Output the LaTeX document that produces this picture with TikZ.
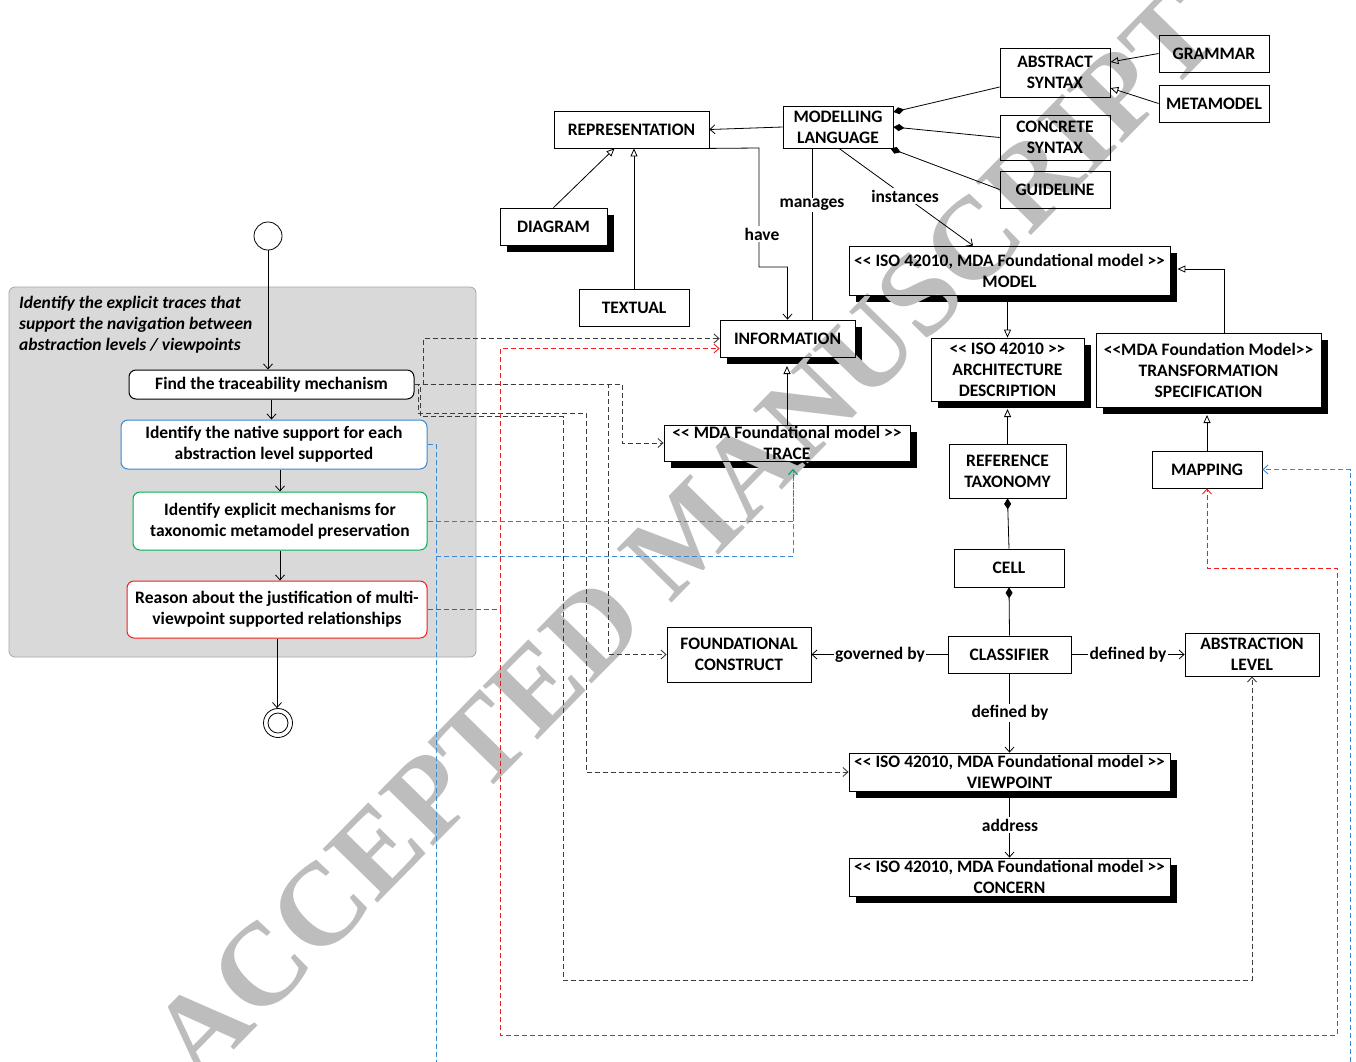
\documentclass[tikz,border=0pt]{standalone}
\usepackage{fontspec}
\setmainfont{Carlito}[Ligatures=TeXOff]
\newfontfamily\wmfont{Liberation Serif}[Ligatures=TeXOff]
\usetikzlibrary{arrows.meta}
\pgfdeclarelayer{bg}
\pgfsetlayers{bg,main}
\definecolor{panelc}{HTML}{D9D9D9}
\definecolor{panelb}{HTML}{A6A6A6}
\definecolor{bluec}{HTML}{3A87D2}
\definecolor{greenc}{HTML}{00B050}
\definecolor{redc}{HTML}{F01E1E}
\definecolor{darkc}{HTML}{3C3C3C}
\definecolor{wmc}{HTML}{BDBDBD}
\newcommand\lbl{\fontsize{17.5}{21}\selectfont\bfseries}
\newcommand\opn{<\kern0pt<}
\newcommand\cls{>\kern0pt>}
\newcommand\mkshadow[1]{\begin{pgfonlayer}{bg}\fill[black] ([shift={(7,7)}]#1.north west) rectangle ([shift={(7,7)}]#1.south east);\fill[white] (#1.north west) rectangle (#1.south east);\end{pgfonlayer}}
\tikzset{
  clsbox/.style={draw, line width=0.8pt, align=center, inner sep=0pt, font=\lbl},
  lab/.style={fill=white, inner sep=1.5pt, font=\lbl},
  act/.style={draw, rounded corners=7pt, fill=white, align=center, inner sep=0pt, line width=1pt, font=\lbl},
  conn/.style={line width=0.8pt, draw=black},
  openarr/.style={-{Straight Barb[length=5pt,width=9pt]}},
  gen/.style={-{Triangle[open,length=8pt,width=7pt]}},
  comp/.style={{Diamond[length=11pt,width=7pt]}-},
  dsh/.style={dash pattern=on 5pt off 3pt, line width=0.9pt},
}
\begin{document}
\begin{tikzpicture}[x=1pt,y=-1pt]
\useasboundingbox (0,0) rectangle (1356,1061);
\begin{pgfonlayer}{bg}
\fill[white] (0,0) rectangle (1356,1061);
\end{pgfonlayer}
% activity panel
\draw[fill=panelc, draw=panelb, rounded corners=6pt, line width=0.8pt] (9,287) rectangle (476,657);
% watermark
\node[rotate=45.6, text=wmc, font=\wmfont\bfseries\fontsize{117}{117}\selectfont] (wm) at (685,535) {ACCEPTED MANUSCRIPT};
% activity nodes
\node[font=\lbl\itshape, align=left, anchor=north west, inner sep=0pt] (title) at (19,296) {Identify the explicit traces that\\support the navigation between\\abstraction levels / viewpoints};
\node[circle, draw, fill=white, minimum size=28pt, inner sep=0pt, line width=0.8pt] (start) at (268,236) {};
\node[act, minimum width=285, minimum height=29] (find) at (271.5,384.5) {Find the traceability mechanism};
\node[act, draw=bluec, minimum width=306, minimum height=49] (native) at (274,444.5) {Identify the native support for each\\abstraction level supported};
\node[act, draw=greenc, minimum width=294, minimum height=58] (explicit) at (280,521) {Identify explicit mechanisms for\\taxonomic metamodel preservation};
\node[act, draw=redc, minimum width=300, minimum height=57] (reason) at (277,609.5) {Reason about the justification of multi-\\viewpoint supported relationships};
\node[circle, draw, fill=white, minimum size=29pt, inner sep=0pt, line width=0.8pt] (end) at (278,723) {};
\node[circle, draw, minimum size=20pt, inner sep=0pt, line width=0.8pt] (endin) at (278,723) {};
\draw[conn,openarr] (start.south) -- (start.south |- find.north);
\draw[conn,openarr] (find.south) -- (find.south |- native.north);
\draw[conn,openarr] (explicit.north |- native.south) -- (explicit.north);
\draw[conn,openarr] (explicit.south) -- (explicit.south |- reason.north);
\draw[conn,openarr] (reason.south) -- (reason.south |- end.north);
% class nodes
\node[clsbox, minimum width=155, minimum height=37] (rep) at (631.5,129.5) {REPRESENTATION};
\node[clsbox, minimum width=110, minimum height=42] (ml) at (838,127) {MODELLING\\LANGUAGE};
\node[clsbox, minimum width=110, minimum height=49] (abs) at (1055,72.5) {ABSTRACT\\SYNTAX};
\node[clsbox, minimum width=110, minimum height=45] (conc) at (1055,137.5) {CONCRETE\\SYNTAX};
\node[clsbox, minimum width=110, minimum height=37] (guide) at (1055,189.5) {GUIDELINE};
\node[clsbox, minimum width=110, minimum height=37] (gram) at (1214,53.5) {GRAMMAR};
\node[clsbox, minimum width=110, minimum height=37] (meta) at (1214,103.5) {METAMODEL};
\node[clsbox, minimum width=107, minimum height=37] (diag) at (553.5,226.5) {DIAGRAM};
\mkshadow{diag}
\node[clsbox, minimum width=110, minimum height=37] (textual) at (634,307.5) {TEXTUAL};
\node[clsbox, minimum width=135, minimum height=37] (info) at (787.5,338.5) {INFORMATION};
\mkshadow{info}
\node[clsbox, minimum width=321, minimum height=49] (model) at (1009.5,270.5) {\opn{} ISO 42010, MDA Foundational model \cls\\MODEL};
\mkshadow{model}
\node[clsbox, minimum width=153, minimum height=63] (arch) at (1007.5,369.5) {\opn{} ISO 42010 \cls\\ARCHITECTURE\\DESCRIPTION};
\mkshadow{arch}
\node[clsbox, minimum width=225, minimum height=74] (trans) at (1208.5,370) {\opn MDA Foundation Model\cls\\TRANSFORMATION\\SPECIFICATION};
\mkshadow{trans}
\node[clsbox, minimum width=246, minimum height=36] (trace) at (787,443) {\opn{} MDA Foundational model \cls\\TRACE};
\mkshadow{trace}
\node[clsbox, minimum width=117, minimum height=54] (reftax) at (1007.5,471) {REFERENCE\\TAXONOMY};
\node[clsbox, minimum width=110, minimum height=37] (mapping) at (1207,469.5) {MAPPING};
\node[clsbox, minimum width=110, minimum height=38] (cell) at (1009,568) {CELL};
\node[clsbox, minimum width=123, minimum height=37] (classifier) at (1009.5,654.5) {CLASSIFIER};
\node[clsbox, minimum width=144, minimum height=55] (found) at (739,654.5) {FOUNDATIONAL\\CONSTRUCT};
\node[clsbox, minimum width=134, minimum height=43] (abslevel) at (1252,654.5) {ABSTRACTION\\LEVEL};
\node[clsbox, minimum width=321, minimum height=38] (vp) at (1009.5,772) {\opn{} ISO 42010, MDA Foundational model \cls\\VIEWPOINT};
\mkshadow{vp}
\node[clsbox, minimum width=321, minimum height=38] (concern) at (1009.5,877) {\opn{} ISO 42010, MDA Foundational model \cls\\CONCERN};
\mkshadow{concern}
\coordinate (traceb) at (793,469);
% class connectors
\draw[conn,openarr] (ml.west) -- (rep.east);
\draw[conn,gen] (diag.north) -- ([xshift=-17]rep.south);
\draw[conn,gen] (textual.north) -- (textual.north |- rep.south);
\draw[conn,openarr] (rep.south east) -- (759,148) -- (759,267) -- (787.5,267) -- (info.north);
\node[lab] (lhave) at (762,234) {have};
\draw[conn] ([xshift=-26]ml.south) -- ([xshift=24.5]info.north);
\node[lab] (lmanages) at (812,205) {manages};
\draw[conn,openarr] ([xshift=1]ml.south) -- ([xshift=-36.5]model.north);
\node[lab] (linst) at (905,196) {instances};
\draw[conn,comp] ([yshift=15]ml.east) -- ([yshift=-14.5]abs.west);
\draw[conn,comp] (ml.east) -- (conc.west);
\draw[conn,comp] ([xshift=-3]ml.south east) -- (guide.west);
\draw[conn,gen] (gram.west) -- ([yshift=10.5]abs.east);
\draw[conn,gen] (meta.west) -- ([yshift=-15.5]abs.east);
\draw[conn,gen] (trace.north) -- (trace.north |- 0,366);
\draw[conn,gen] (arch.north |- 0,302) -- (arch.north);
\draw[conn,gen] ([xshift=15.5]trans.north) |- ([shift={(7,-1.5)}]model.east);
\draw[conn,gen] (reftax.north) -- (reftax.north |- 0,409);
\draw[conn,gen] (mapping.north) -- (mapping.north |- 0,415);
\draw[conn,comp] (reftax.south) -- (cell.north);
\draw[conn,comp] (cell.south) -- (classifier.north);
\draw[conn,openarr] (classifier.west) -- (found.east);
\node[lab] (lgov) at (880,655) {governed by};
\draw[conn,openarr] (classifier.east) -- (abslevel.west);
\node[lab] (ldef1) at (1128,655) {defined by};
\draw[conn,openarr] (classifier.south) -- (vp.north);
\node[lab] (ldef2) at (1010,713) {defined by};
\draw[conn,openarr] (vp.south |- 0,798) -- (concern.north);
\node[lab] (laddr) at (1010,825) {address};
% dashed traceability links
\draw[dsh,draw=darkc,openarr] (find.east) -- (423,384.5) |- (info.west);
\draw[dsh,draw=darkc,openarr] (find.east) -- (622,384.5) |- (trace.west);
\draw[dsh,draw=darkc,openarr] (find.east) -- (608,384.5) |- (found.west);
\draw[dsh,draw=darkc,openarr] (find.east) -- (418,384.5) -- (418,413) -- (586,413) |- (vp.west);
\draw[dsh,draw=darkc,openarr] (find.east) -- (420,384.5) -- (420,416.5) -- (563,416.5) -- (563,980) -| (abslevel.south);
\draw[dsh,draw=redc,openarr] (reason.east) -- (500,609.5) |- ([yshift=-10]info.west);
\draw[dsh,draw=redc,openarr] (reason.east) -- (500,609.5) -- (500,1035) -- (1337,1035) -- (1337,568) -| (mapping.south);
\draw[dsh,draw=bluec,openarr] (native.east) -- (436,444.5) -- (436,556) -| (traceb);
\begin{scope}
\clip (0,0) rectangle (1356,1061);
\draw[dsh,draw=bluec,openarr] (native.east) -- (436,444.5) -- (436,1080) -- (1350,1080) -- (1350,469.5) -- (mapping.east);
\end{scope}
\draw[dsh,draw=greenc,openarr] (explicit.east) -| (traceb);
\end{tikzpicture}
\end{document}
